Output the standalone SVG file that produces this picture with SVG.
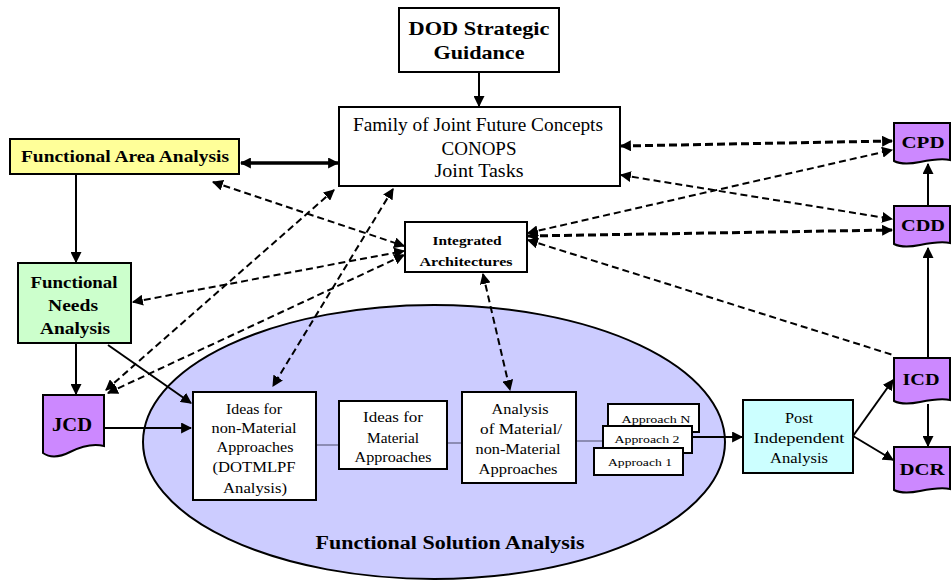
<svg xmlns="http://www.w3.org/2000/svg" width="951" height="581" viewBox="0 0 951 581">
<defs>
<marker id="ah" viewBox="0 0 10 10" refX="9" refY="5" markerWidth="11" markerHeight="11" markerUnits="userSpaceOnUse" orient="auto-start-reverse"><path d="M0,0 L10,5 L0,10 Z" fill="#000"/></marker>
<style>
.box{stroke:#000;stroke-width:2}
.t{fill:#000;text-anchor:middle}
.b{font-weight:bold}
.s{stroke:#000;stroke-width:2;fill:none}
.d{stroke:#000;stroke-width:2;fill:none;stroke-dasharray:7 4}
.dk{stroke:#000;stroke-width:3;fill:none;stroke-dasharray:8 4}
.g{stroke:#8c8cb4;stroke-width:2;fill:none}
</style>
</defs>
<rect width="951" height="581" fill="#fff"/>
<g font-family="'Liberation Serif', 'Times New Roman', 'DejaVu Serif', serif" lengthAdjust="spacingAndGlyphs">

<g id="fsa">
<ellipse cx="434" cy="442" rx="291" ry="137" fill="#ccccff" stroke="#000" stroke-width="2"/>
<text class="t b" x="450" y="549" font-size="18" textLength="269" lengthAdjust="spacingAndGlyphs">Functional Solution Analysis</text>
</g>

<g id="connectors">
<path class="g" d="M316,445 H339 M447,443 H462 M576,441 H603"/>
<line class="s" x1="692" y1="437" x2="742" y2="437" marker-end="url(#ah)"/>
<line class="s" x1="479" y1="72" x2="479" y2="106" marker-end="url(#ah)"/>
<line x1="338" y1="163" x2="241" y2="163" stroke="#000" stroke-width="3.5" marker-start="url(#ah)" marker-end="url(#ah)"/>
<line class="s" x1="76" y1="174" x2="76" y2="262" marker-end="url(#ah)"/>
<line class="s" x1="76" y1="343" x2="76" y2="394" marker-end="url(#ah)"/>
<line class="s" x1="108" y1="345" x2="191" y2="403" marker-end="url(#ah)"/>
<line class="s" x1="104" y1="428" x2="191" y2="428" marker-end="url(#ah)"/>
<line class="s" x1="853" y1="436" x2="893" y2="380" marker-end="url(#ah)"/>
<line class="s" x1="853" y1="436" x2="893" y2="460" marker-end="url(#ah)"/>
<line class="s" x1="928" y1="358" x2="928" y2="248" marker-end="url(#ah)"/>
<line class="s" x1="928" y1="207" x2="928" y2="164" marker-end="url(#ah)"/>
<line class="s" x1="928" y1="404" x2="928" y2="446" marker-end="url(#ah)"/>
<line class="dk" x1="621" y1="146" x2="892" y2="141" marker-start="url(#ah)" marker-end="url(#ah)"/>
<line class="d" x1="621" y1="175" x2="892" y2="219" marker-start="url(#ah)" marker-end="url(#ah)"/>
<line class="d" x1="528" y1="233" x2="892" y2="150" marker-start="url(#ah)" marker-end="url(#ah)"/>
<line class="dk" x1="528" y1="236" x2="892" y2="230" marker-start="url(#ah)" marker-end="url(#ah)"/>
<line class="d" x1="528" y1="240" x2="893" y2="355" marker-start="url(#ah)"/>
<line class="d" x1="213" y1="182" x2="404" y2="246" marker-start="url(#ah)" marker-end="url(#ah)"/>
<line class="d" x1="133" y1="302" x2="404" y2="251" marker-start="url(#ah)" marker-end="url(#ah)"/>
<line class="d" x1="106" y1="390" x2="334" y2="190" marker-start="url(#ah)" marker-end="url(#ah)"/>
<line class="d" x1="108" y1="393" x2="404" y2="255" marker-start="url(#ah)" marker-end="url(#ah)"/>
<line class="d" x1="393" y1="189" x2="273" y2="386" marker-start="url(#ah)" marker-end="url(#ah)"/>
<line class="d" x1="483" y1="274" x2="510" y2="390" marker-start="url(#ah)" marker-end="url(#ah)"/>
</g>

<g id="dod">
<rect class="box" x="399" y="8" width="160" height="64" fill="#fff"/>
<text class="t b" x="479" y="35" font-size="19" textLength="141" lengthAdjust="spacingAndGlyphs">DOD Strategic</text>
<text class="t b" x="479" y="59" font-size="19" textLength="91" lengthAdjust="spacingAndGlyphs">Guidance</text>
</g>

<g id="family">
<rect class="box" x="339" y="107" width="281" height="79" fill="#fff"/>
<text class="t" x="478" y="131" font-size="18" textLength="250" lengthAdjust="spacingAndGlyphs">Family of Joint Future Concepts</text>
<text class="t" x="479" y="155" font-size="18" textLength="75" lengthAdjust="spacingAndGlyphs">CONOPS</text>
<text class="t" x="479" y="177" font-size="18" textLength="89" lengthAdjust="spacingAndGlyphs">Joint Tasks</text>
</g>

<g id="faa">
<rect class="box" x="10" y="139" width="229" height="35" fill="#ffff99"/>
<text class="t b" x="125" y="162" font-size="16" textLength="208" lengthAdjust="spacingAndGlyphs">Functional Area Analysis</text>
</g>

<g id="fna">
<rect class="box" x="18" y="263" width="113" height="80" fill="#ccffcc"/>
<text class="t b" x="74" y="288" font-size="16" textLength="87" lengthAdjust="spacingAndGlyphs">Functional</text>
<text class="t b" x="73" y="311" font-size="16" textLength="50" lengthAdjust="spacingAndGlyphs">Needs</text>
<text class="t b" x="75" y="334" font-size="16" textLength="70" lengthAdjust="spacingAndGlyphs">Analysis</text>
</g>

<g id="jcd">
<path class="box" d="M43,395 H104 V446 C92,443 80,447 70,452 C60,457 50,458 43,453 Z" fill="#cc88ff"/>
<text class="t b" x="72" y="431" font-size="18" textLength="40" lengthAdjust="spacingAndGlyphs">JCD</text>
</g>

<g id="ia">
<rect class="box" x="405" y="222" width="122" height="50" fill="#fff"/>
<text class="t b" x="467" y="245" font-size="13" textLength="69" lengthAdjust="spacingAndGlyphs">Integrated</text>
<text class="t b" x="466" y="266" font-size="13" textLength="93" lengthAdjust="spacingAndGlyphs">Architectures</text>
</g>

<g id="ideas-nonmat">
<rect class="box" x="193" y="392" width="123" height="108" fill="#fff"/>
<text class="t" x="254" y="414" font-size="14" textLength="56" lengthAdjust="spacingAndGlyphs">Ideas for</text>
<text class="t" x="254" y="433" font-size="14" textLength="85" lengthAdjust="spacingAndGlyphs">non-Material</text>
<text class="t" x="255" y="452" font-size="14" textLength="77" lengthAdjust="spacingAndGlyphs">Approaches</text>
<text class="t" x="254" y="472" font-size="14" textLength="83" lengthAdjust="spacingAndGlyphs">(DOTMLPF</text>
<text class="t" x="255" y="493" font-size="14" textLength="64" lengthAdjust="spacingAndGlyphs">Analysis)</text>
</g>

<g id="ideas-mat">
<rect class="box" x="339" y="401" width="108" height="68" fill="#fff"/>
<text class="t" x="393" y="422" font-size="14" textLength="60" lengthAdjust="spacingAndGlyphs">Ideas for</text>
<text class="t" x="393" y="443" font-size="14" textLength="52" lengthAdjust="spacingAndGlyphs">Material</text>
<text class="t" x="393" y="462" font-size="14" textLength="77" lengthAdjust="spacingAndGlyphs">Approaches</text>
</g>

<g id="analysis">
<rect class="box" x="462" y="392" width="114" height="91" fill="#fff"/>
<text class="t" x="520" y="414" font-size="14" textLength="57" lengthAdjust="spacingAndGlyphs">Analysis</text>
<text class="t" x="521" y="434" font-size="14" textLength="82" lengthAdjust="spacingAndGlyphs">of Material/</text>
<text class="t" x="518" y="454" font-size="14" textLength="85" lengthAdjust="spacingAndGlyphs">non-Material</text>
<text class="t" x="518" y="474" font-size="14" textLength="79" lengthAdjust="spacingAndGlyphs">Approaches</text>
</g>

<g id="approach-n">
<rect class="box" x="608" y="404" width="91" height="28" fill="#fff"/>
<text class="t" x="656" y="423" font-size="11" textLength="69" lengthAdjust="spacingAndGlyphs">Approach N</text>
</g>
<g id="approach-2">
<rect class="box" x="603" y="426" width="89" height="27" fill="#fff"/>
<text class="t" x="647" y="443" font-size="11" textLength="65" lengthAdjust="spacingAndGlyphs">Approach 2</text>
</g>
<g id="approach-1">
<rect class="box" x="594" y="448" width="89" height="27" fill="#fff"/>
<text class="t" x="640" y="466" font-size="11" textLength="64" lengthAdjust="spacingAndGlyphs">Approach 1</text>
</g>

<g id="post">
<rect class="box" x="743" y="400" width="110" height="73" fill="#ccffff"/>
<text class="t" x="799" y="423" font-size="14" textLength="28" lengthAdjust="spacingAndGlyphs">Post</text>
<text class="t" x="799" y="443" font-size="14" textLength="91" lengthAdjust="spacingAndGlyphs">Independent</text>
<text class="t" x="799" y="463" font-size="14" textLength="58" lengthAdjust="spacingAndGlyphs">Analysis</text>
</g>

<g id="cpd">
<path class="box" d="M894,123 H950 V160 C940,158 930,160 920,162 C910,164 900,164 894,161 Z" fill="#cc88ff"/>
<text class="t b" x="923" y="148" font-size="17" textLength="43" lengthAdjust="spacingAndGlyphs">CPD</text>
</g>
<g id="cdd">
<path class="box" d="M894,206 H950 V243 C940,241 930,243 920,245 C910,247 900,247 894,244 Z" fill="#cc88ff"/>
<text class="t b" x="923" y="231" font-size="17" textLength="44" lengthAdjust="spacingAndGlyphs">CDD</text>
</g>
<g id="icd">
<path class="box" d="M894,358 H950 V400 C940,398 930,400 920,402 C910,404 900,404 894,401 Z" fill="#cc88ff"/>
<text class="t b" x="921" y="385" font-size="17" textLength="37" lengthAdjust="spacingAndGlyphs">ICD</text>
</g>
<g id="dcr">
<path class="box" d="M894,447 H950 V489 C940,487 930,489 920,491 C910,493 900,493 894,490 Z" fill="#cc88ff"/>
<text class="t b" x="922" y="475" font-size="17" textLength="45" lengthAdjust="spacingAndGlyphs">DCR</text>
</g>
</g>
</svg>
